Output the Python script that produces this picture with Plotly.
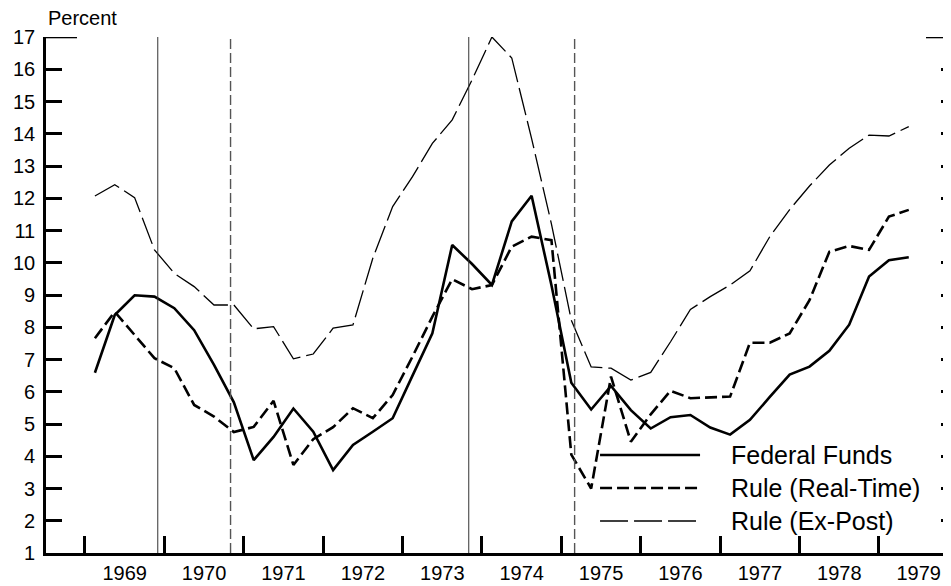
import plotly.graph_objects as go

# ---------------- data (quarterly, 1969Q1 .. 1979Q2) ----------------
quarters = [f"{y}Q{q}" for y in range(1969, 1980) for q in range(1, 5)][:42]

federal_funds = [6.59, 8.38, 8.99, 8.95, 8.59, 7.91, 6.83, 5.67,
                 3.88, 4.60, 5.48, 4.76, 3.57, 4.35, 4.76, 5.18,
                 6.50, 7.81, 10.55, 9.96, 9.31, 11.28, 12.08, 9.30,
                 6.28, 5.45, 6.18, 5.43, 4.86, 5.21, 5.28, 4.89,
                 4.67, 5.13, 5.84, 6.53, 6.78, 7.27, 8.08, 9.57,
                 10.08, 10.17]

rule_real_time = [7.66, 8.48, 7.76, 7.04, 6.73, 5.59, 5.23, 4.75,
                  4.91, 5.72, 3.73, 4.53, 4.90, 5.49, 5.18, 5.90,
                  7.09, 8.33, 9.49, 9.18, 9.31, 10.50, 10.81, 10.70,
                  4.05, 3.00, 6.47, 4.45, 5.30, 6.03, 5.80, 5.82,
                  5.85, 7.52, 7.52, 7.81, 8.84, 10.34, 10.52, 10.40,
                  11.43, 11.64]

rule_ex_post = [12.07, 12.42, 12.02, 10.40, 9.67, 9.26, 8.69, 8.69,
                7.95, 8.02, 7.02, 7.17, 7.97, 8.07, 10.14, 11.74,
                12.67, 13.70, 14.43, 15.67, 17.00, 16.35, 13.85, 11.20,
                8.22, 6.77, 6.73, 6.36, 6.60, 7.55, 8.55, 8.95,
                9.31, 9.75, 10.81, 11.65, 12.38, 13.03, 13.55, 13.96,
                13.93, 14.22]

# business-cycle reference dates (decimal years)
peaks = [1969 + 11 / 12, 1973 + 10 / 12]      # Dec 1969, Nov 1973
troughs = [1970 + 10 / 12, 1975 + 2 / 12]     # Nov 1970, Mar 1975

year_ticks = list(range(1969, 1980))
y_ticks = list(range(1, 18))

series_names = ["Federal Funds", "Rule (Real-Time)", "Rule (Ex-Post)"]


def qpos(label):
    return int(label[:4]) + (int(label[-1]) - 0.5) / 4


x = [qpos(q) for q in quarters]

FONT = "Liberation Sans, Arial, Helvetica, sans-serif"
styles = [dict(color="black", width=2.6, dash="solid"),
          dict(color="black", width=2.6, dash="12px,5px"),
          dict(color="black", width=1.3, dash="28px,6px")]

fig = go.Figure()
for name, vals, st in zip(series_names,
                          [federal_funds, rule_real_time, rule_ex_post], styles):
    fig.add_trace(go.Scatter(x=x, y=vals, mode="lines", name=name,
                             line=st, showlegend=False, hoverinfo="skip"))

# dummy trace for the right-hand tick axis
fig.add_trace(go.Scatter(x=[None], y=[None], yaxis="y2", showlegend=False))

shapes = []
for p in peaks:
    shapes.append(dict(type="line", xref="x", yref="paper", x0=p, x1=p, y0=0, y1=1,
                       line=dict(color="#333333", width=1)))
for t in troughs:
    shapes.append(dict(type="line", xref="x", yref="paper", x0=t, x1=t, y0=0, y1=1,
                       line=dict(color="#555555", width=1.4, dash="10px,4px")))

# longer top ticks at 17
shapes.append(dict(type="line", xref="paper", xsizemode="pixel", xanchor=0,
                   x0=0, x1=31, yref="y", y0=17, y1=17,
                   line=dict(color="black", width=2.6)))
shapes.append(dict(type="line", xref="paper", xsizemode="pixel", xanchor=1,
                   x0=-25, x1=0, yref="y", y0=17, y1=17,
                   line=dict(color="black", width=2.6)))

# manual legend
leg_x0, leg_x1, leg_text_x = 0.6122, 0.7227, 0.7547
leg_rows = [0.190, 0.126, 0.062]
annotations = []
for name, st, yy in zip(series_names, styles, leg_rows):
    shapes.append(dict(type="line", xref="paper", yref="paper",
                       x0=leg_x0, x1=leg_x1, y0=yy, y1=yy, line=st))
    annotations.append(dict(text=name, xref="paper", yref="paper", x=leg_text_x, y=yy,
                            xanchor="left", yanchor="middle", showarrow=False,
                            font=dict(size=25, family=FONT, color="black")))

annotations.append(dict(text="Percent", xref="paper", yref="paper", x=0, y=1.0368,
                        xanchor="left", yanchor="middle", showarrow=False,
                        font=dict(size=20, family=FONT, color="black")))

# page body has an 8px default margin, so the figure is 8px smaller each way
fig.update_layout(
    width=943, height=578,
    margin=dict(l=38, r=0, t=29, b=33, autoexpand=False),
    paper_bgcolor="white", plot_bgcolor="white",
    font=dict(family=FONT, size=20, color="black"),
    xaxis=dict(range=[1968.509, 1979.907], showgrid=False, zeroline=False,
               showline=True, linecolor="black", linewidth=2.6,
               tickmode="array", tickvals=[y + 0.5 for y in year_ticks],
               ticktext=[str(y) for y in year_ticks], ticks="",
               ticklabelstandoff=0,
               minor=dict(tickmode="array", tickvals=year_ticks, ticks="inside",
                          ticklen=17, tickwidth=2.6, tickcolor="black")),
    yaxis=dict(range=[1, 17], showgrid=False, zeroline=False,
               showline=True, linecolor="black", linewidth=2.6,
               tickmode="array", tickvals=y_ticks, ticks="inside",
               ticklen=16, tickwidth=2.6, tickcolor="black",
               ticklabelstandoff=4),
    yaxis2=dict(range=[1, 17], overlaying="y", side="right", showgrid=False,
                zeroline=False, showline=False, tickmode="array",
                tickvals=y_ticks, ticks="inside", ticklen=10, tickwidth=2.6,
                tickcolor="black", showticklabels=False),
    shapes=shapes, annotations=annotations,
)

fig.write_html("out.html")
